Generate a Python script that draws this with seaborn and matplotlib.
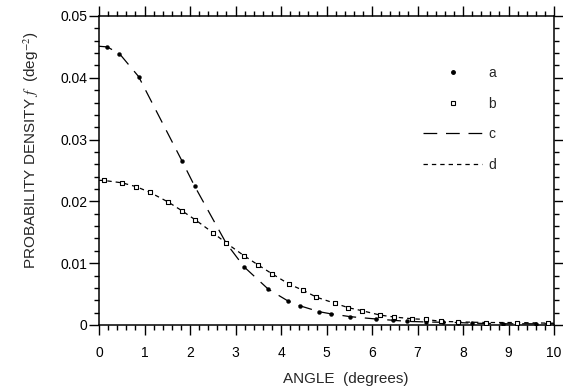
import matplotlib
matplotlib.use('Agg')

import matplotlib.pyplot as plt
import seaborn as sns
import pandas as pd
from matplotlib.ticker import MultipleLocator, FixedLocator, FuncFormatter
from matplotlib.lines import Line2D

# series a (dots) and the long-dashed curve c drawn through them
angle_a = [0.18, 0.45, 0.87, 1.82, 2.10, 2.79, 3.19, 3.72, 4.15, 4.42, 4.84, 5.10,
           5.52, 6.09, 6.47, 6.76, 7.18, 7.55, 7.90, 8.19, 8.51, 8.87, 9.18, 9.60, 9.87]
dens_a = [0.0450, 0.0439, 0.0402, 0.0266, 0.0225, 0.0133, 0.0094, 0.0058, 0.0039, 0.0031,
          0.00215, 0.0018, 0.00135, 0.00097, 0.00076, 0.0006, 0.00049, 0.00044, 0.0004,
          0.0003, 0.00025, 0.0002, 0.0002, 0.0002, 0.0002]

# series b (open squares) and the short-dashed curve d
angle_b = [0.10, 0.51, 0.81, 1.11, 1.52, 1.82, 2.12, 2.51, 2.79, 3.19, 3.50, 3.80, 4.18,
           4.49, 4.78, 5.19, 5.48, 5.79, 6.18, 6.48, 6.89, 7.18, 7.51, 7.90, 8.51, 9.18, 9.87]
dens_b = [0.0234, 0.0230, 0.0224, 0.0215, 0.0199, 0.0185, 0.0170, 0.0149, 0.0133, 0.0112,
          0.0097, 0.0083, 0.0066, 0.0056, 0.0045, 0.0035, 0.0028, 0.0023, 0.0016, 0.0013,
          0.0010, 0.0009, 0.0006, 0.0005, 0.0004, 0.0004, 0.0003]

angle_c = [0.0] + angle_a + [10.0]
dens_c = [0.0451] + dens_a + [0.0002]
angle_d = [0.0] + angle_b + [10.0]
dens_d = [0.0234] + dens_b + [0.0003]

legend_labels = ['a', 'b', 'c', 'd']
x_ticks = [0, 1, 2, 3, 4, 5, 6, 7, 8, 9, 10]
y_ticks = [0, 0.01, 0.02, 0.03, 0.04, 0.05]

sns.set_style('ticks')
plt.rcParams['font.family'] = ['Liberation Sans', 'DejaVu Sans']
plt.rcParams['mathtext.fontset'] = 'stix'

fig = plt.figure(figsize=(5.63, 3.91), dpi=100)
ax = fig.add_axes([99 / 563, 1 - 325 / 391, (554 - 99) / 563, (325 - 16) / 391])

long_dash = (0, (11, 7))
short_dash = (0, (3.5, 3.2))

df_c = pd.DataFrame({'angle': angle_c, 'dens': dens_c})
df_d = pd.DataFrame({'angle': angle_d, 'dens': dens_d})
sns.lineplot(data=df_c, x='angle', y='dens', ax=ax, color='black', lw=0.9,
             linestyle=long_dash, sort=False)
sns.lineplot(data=df_d, x='angle', y='dens', ax=ax, color='black', lw=0.9,
             linestyle=short_dash, sort=False)
sns.scatterplot(x=angle_a, y=dens_a, ax=ax, color='black', marker='o', s=8,
                edgecolor='black', linewidth=0.3, zorder=3)
sns.scatterplot(x=angle_b, y=dens_b, ax=ax, color='white', marker='s', s=12,
                edgecolor='black', linewidth=0.8, zorder=3)

ax.set_xlim(0, 10)
ax.set_ylim(0, 0.05)
ax.set_xlabel('ANGLE  (degrees)', fontsize=11)
ax.set_ylabel(r'PROBABILITY DENSITY $f$  (deg$^{-2}$)', fontsize=11)
ax.xaxis.set_label_coords(0.543, -0.153)
ax.yaxis.set_label_coords(-0.128, 0.566)

ax.xaxis.set_major_locator(FixedLocator(x_ticks))
ax.xaxis.set_minor_locator(MultipleLocator(0.2))
ax.yaxis.set_major_locator(FixedLocator(y_ticks))
ax.yaxis.set_minor_locator(MultipleLocator(0.002))
ax.yaxis.set_major_formatter(FuncFormatter(lambda v, p: '0' if abs(v) < 1e-9 else f'{v:.2f}'))

ax.tick_params(axis='both', which='both', direction='out', colors='black',
               labelsize=10, width=1)
ax.tick_params(axis='x', which='major', length=7, pad=8, top=True)
ax.tick_params(axis='x', which='minor', length=3.5, top=True)
ax.tick_params(axis='y', which='major', length=7, pad=1.5, right=True)
ax.tick_params(axis='y', which='minor', length=3.5, right=True)
for side in ['top', 'right', 'bottom', 'left']:
    ax.spines[side].set_visible(True)
    ax.spines[side].set_linewidth(1.1)
    ax.spines[side].set_color('black')

handles = [
    Line2D([], [], color='black', marker='o', ls='none', markersize=2.5),
    Line2D([], [], color='black', marker='s', ls='none', markersize=3,
           markerfacecolor='white', markeredgewidth=0.8),
    Line2D([], [], color='black', lw=0.9, linestyle=long_dash),
    Line2D([], [], color='black', lw=0.9, linestyle=short_dash),
]
ax.legend(handles, legend_labels, loc='upper left', frameon=False, fontsize=10,
          handlelength=4.25, handletextpad=0.43, labelspacing=1.2,
          borderpad=0, borderaxespad=0,
          bbox_to_anchor=(423 / 563, 1 - 66 / 391), bbox_transform=fig.transFigure)

fig.savefig('out.png', dpi=100)
